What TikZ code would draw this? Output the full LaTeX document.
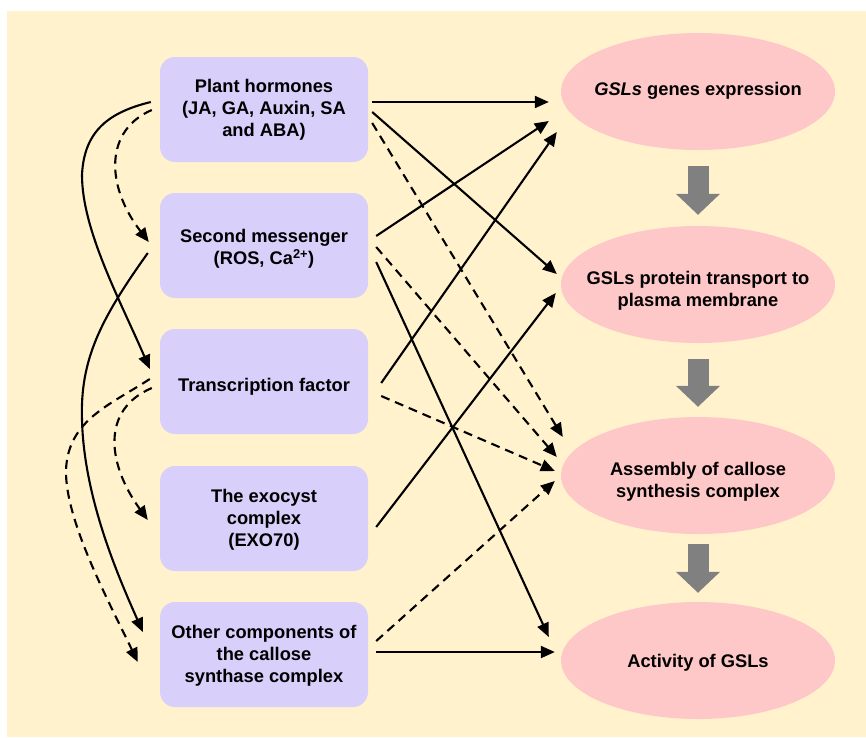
\documentclass[tikz,border=0pt]{standalone}
\usepackage{fontspec}
\setmainfont{Liberation Sans}
\usetikzlibrary{arrows.meta,shapes.geometric}
\definecolor{bgc}{HTML}{FFF2CC}
\definecolor{boxc}{HTML}{D9CFFB}
\definecolor{ellc}{HTML}{FFC8C8}
\definecolor{blkc}{HTML}{808080}
% zero-width centred text block, lowered by #1
\newcommand\ztext[2]{\raisebox{-#1}[\height][\depth]{\makebox[0pt]{\begin{tabular}{@{}c@{}}#2\end{tabular}}}}
\newcommand\ltext[2]{\raisebox{-#1}[\height][\depth]{\begin{tabular}{@{}c@{}}#2\end{tabular}}}
\begin{document}
\begin{tikzpicture}[x=1pt,y=-1pt,
  lbl/.style={font=\fontsize{18.3}{22}\selectfont\bfseries},
  box/.style={lbl, draw=none, fill=boxc, rounded corners=15pt, minimum width=208pt, minimum height=105pt, align=center, inner sep=0pt},
  ell/.style={lbl, ellipse, draw=none, fill=ellc, minimum width=274pt, minimum height=117pt, inner sep=0pt},
  conn/.style={line width=2.1pt, -{Triangle[length=14pt,width=12pt]}},
  dconn/.style={conn, dash pattern=on 9pt off 6pt},
  blk/.style={line width=21pt, draw=blkc, -{Triangle[length=21pt,width=43pt]}}]
\useasboundingbox (0,0) rectangle (866,737);
\fill[bgc] (7,11) rectangle (866,737);

% left boxes
\node[box] (p1) at (264,109.5) {\ltext{1pt}{Plant hormones\\(JA, GA, Auxin, SA\\and ABA)}};
\node[box] (p2) at (264,245.5) {\ltext{4pt}{Second messenger\\(ROS, Ca\textsuperscript{2+})}};
\node[box] (p3) at (264,381.5) {\ltext{6pt}{Transcription factor}};
\node[box] (p4) at (264,518.5) {\ltext{2pt}{The exocyst\\complex\\(EXO70)}};
\node[box] (p5) at (264,654.5) {\ltext{2pt}{Other components of\\the callose\\synthase complex}};

% right ellipses
\node[ell] (e1) at (698,91.5) {\ztext{0pt}{\textit{GSLs} genes expression}};
\node[ell] (e2) at (698,284.5) {\ztext{7pt}{GSLs protein transport to\\plasma membrane}};
\node[ell] (e3) at (698,475.5) {\ztext{7pt}{Assembly of callose\\synthesis complex}};
\node[ell] (e4) at (698,660.5) {\ztext{3pt}{Activity of GSLs}};

% block arrows
\draw[blk] ([shift={(0,16)}]e1.south) -- ([shift={(0,-11)}]e2.north);
\draw[blk] ([shift={(0,16)}]e2.south) -- ([shift={(0,-10)}]e3.north);
\draw[blk] ([shift={(0,10)}]e3.south) -- ([shift={(0,-9)}]e4.north);

% right connectors
\draw[conn]  ([shift={(4,-7.5)}]p1.east) -- ([shift={(-12,10.5)}]e1.west);
\draw[conn]  ([shift={(4,2.5)}]p1.east) -- ([shift={(-4,-10.5)}]e2.west);
\draw[dconn] ([shift={(4,13.5)}]p1.east) -- ([shift={(2,-38.5)}]e3.west);
\draw[conn]  ([shift={(8,-9.5)}]p2.east) -- ([shift={(-12,29.5)}]e1.west);
\draw[dconn] ([shift={(8,1.5)}]p2.east) -- ([shift={(-4,-18.5)}]e3.west);
\draw[conn]  ([shift={(8,16.5)}]p2.east) -- ([shift={(-12,-23.5)}]e4.west);
\draw[conn]  ([shift={(13,1.5)}]p3.east) -- ([shift={(-4,40.5)}]e1.west);
\draw[dconn] ([shift={(13,14.5)}]p3.east) -- ([shift={(-6,-4.5)}]e3.west);
\draw[conn]  ([shift={(8,8.5)}]p4.east) -- ([shift={(-5,8.5)}]e2.west);
\draw[dconn] ([shift={(8,-13.5)}]p5.east) -- ([shift={(-6,5.5)}]e3.west);
\draw[conn]  ([shift={(8,-2.5)}]p5.east) -- ([shift={(-6,-8.5)}]e4.west);

% left curved connectors
\draw[conn] ([shift={(-9,-7.5)}]p1.west) .. controls (110,112) and (84,130) .. (82,175)
  .. controls (82,230) and (120,300) .. ([shift={(-10,-12.5)}]p3.west);
\draw[dconn] ([shift={(-8,0.5)}]p1.west) .. controls (105,130) and (105,185) .. ([shift={(-11,-3.5)}]p2.west);
\draw[conn] ([shift={(-12,7.5)}]p2.west) .. controls (100,320) and (80,360) .. (82,420)
  .. controls (84,500) and (120,580) .. ([shift={(-17,-22.5)}]p5.west);
\draw[dconn] ([shift={(-10,-2.5)}]p3.west) .. controls (110,405) and (68,420) .. (66,470)
  .. controls (65,520) and (108,600) .. ([shift={(-22,7.5)}]p5.west);
\draw[dconn] ([shift={(-8,6.5)}]p3.west) .. controls (100,410) and (108,465) .. ([shift={(-12,1.5)}]p4.west);
\end{tikzpicture}
\end{document}
